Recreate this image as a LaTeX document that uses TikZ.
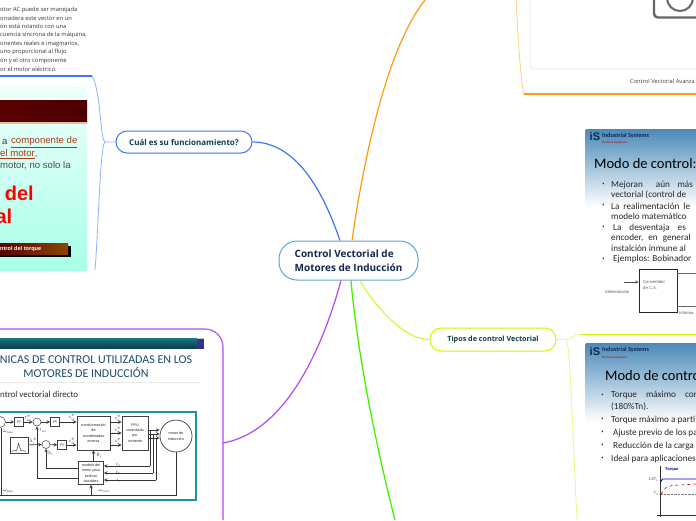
\documentclass[tikz,border=0pt]{standalone}
\usepackage{fontspec}
\setmainfont{Open Sans}
\newfontfamily\slidefont{Carlito}
\newfontfamily\webfont{Liberation Sans}
\usetikzlibrary{calc}
\definecolor{navy}{HTML}{12264F}
\definecolor{pine}{HTML}{0F3F3F}
\definecolor{skyline}{HTML}{5AA5DC}
\definecolor{blueline}{HTML}{3F74F5}
\definecolor{paleblue}{HTML}{8FB0FF}
\definecolor{orangeline}{HTML}{FF9A10}
\definecolor{paleorange}{HTML}{FFD080}
\definecolor{limeline}{HTML}{D2F500}
\definecolor{palelime}{HTML}{EFF58A}
\definecolor{greenline}{HTML}{44F000}
\definecolor{purpleline}{HTML}{B048F5}
\definecolor{frameteal}{HTML}{1F8FA8}
\definecolor{slideblue}{HTML}{4A8AB8}
\definecolor{titleblue}{HTML}{1A4A6A}
\definecolor{mintlight}{HTML}{F0FFFB}
\definecolor{mintdark}{HTML}{A8FFE8}
\definecolor{rustred}{HTML}{A83A18}
\tikzset{
    topic/.style={draw, fill=white, rounded corners=11pt, line width=1pt, inner sep=0pt, text=pine,
        font=\fontsize{7.2}{9}\selectfont\bfseries},
    note/.style={anchor=west, inner sep=0pt, text=black!80, font=\fontsize{5.8}{6}\selectfont},
    slidetext/.style={anchor=west, inner sep=0pt, text=black!85, font=\slidefont\fontsize{9.2}{10}\selectfont},
    slidehead/.style={anchor=west, inner sep=0pt, text=black, font=\slidefont\fontsize{14.5}{16}\selectfont},
    bulletdot/.style={anchor=center, inner sep=0pt, text=black!85, font=\fontsize{7}{7}\selectfont},
    logoname/.style={anchor=west, inner sep=0pt, text=navy, font=\slidefont\fontsize{6.2}{6}\selectfont\bfseries},
    logosub/.style={anchor=west, inner sep=0pt, text=red!70!black, font=\slidefont\fontsize{3}{3}\selectfont},
    logomark/.style={anchor=west, inner sep=0pt, text=navy, font=\webfont\fontsize{11}{11}\selectfont\bfseries},
    webtext/.style={inner sep=0pt, font=\webfont\fontsize{9.6}{11}\selectfont},
    bigred/.style={anchor=east, inner sep=0pt, text=red, font=\webfont\fontsize{20}{22}\selectfont\bfseries},
    tiny/.style={inner sep=0pt, text=black!80, font=\webfont\fontsize{3.8}{4.6}\selectfont},
    block/.style={draw=black!75, fill=white, line width=0.7pt, inner sep=0pt, align=center,
        text=black!85, font=\webfont\fontsize{3.7}{5.4}\selectfont},
    sumnode/.style={draw=black!75, fill=white, circle, line width=0.5pt, inner sep=0pt, minimum size=8pt},
    wire/.style={draw=black!80, line width=0.6pt, ->, >=stealth},
    title/.style={inner sep=0pt, text=titleblue, font=\slidefont\fontsize{12}{13}\selectfont},
}
\begin{document}
\begin{tikzpicture}[x=1pt,y=-1pt]
    \useasboundingbox (0,0) rectangle (696,520);

    % main topics
    \node[topic, draw=skyline, minimum width=139pt, minimum height=39pt, rounded corners=18pt, align=left, text=navy,
        font=\fontsize{10}{14}\selectfont\bfseries] (central) at (348.5,260.5) {Control Vectorial de\\Motores de Inducción};
    \node[topic, draw=blueline, minimum width=136pt, minimum height=22pt, font=\fontsize{8}{9}\selectfont\bfseries] (cual) at (184,142) {Cuál es su funcionamiento?};
    \node[topic, draw=limeline, minimum width=126pt, minimum height=23pt] (tipos) at (493,339.5) {Tipos de control Vectorial};

    % free ends
    \coordinate (blueknee) at (105,142);
    \coordinate (bluetop) at (92,76);
    \coordinate (blueedge) at (0,76);
    \coordinate (bluelow) at (95,270);
    \coordinate (orangetop) at (425,0);
    \coordinate (orangeleft) at (516,0);
    \coordinate (orangecorner) at (524,94);
    \coordinate (orangeedge) at (696,94);
    \coordinate (greenlow) at (395,520);
    \coordinate (purplejoin) at (223,443);
    \coordinate (limeknee) at (566,339.5);
    \coordinate (limetop) at (581,334);
    \coordinate (limeedge) at (696,334);
    \coordinate (limelow) at (577,520);

    % connectors
    \draw[blueline, line width=1.2pt] (central.north) ++(-8.5,0) coordinate (cn1) (cn1) .. controls (326,200) and (300,142) .. (cual.east);
    \draw[orangeline, line width=1.2pt] (central.north) ++(3.5,0) coordinate (cn2) (cn2) .. controls (362,170) and (385,50) .. (orangetop);
    \draw[greenline, line width=1.3pt] (central.south) ++(2.5,0) coordinate (cs1) (cs1) .. controls (356,340) and (372,430) .. (greenlow);
    \draw[purpleline, line width=1.2pt] (central.south) ++(-7.5,0) coordinate (cs2) (cs2) .. controls (322,350) and (285,432) .. (purplejoin);
    \draw[limeline, line width=0.9pt] (central.south) ++(11,0) coordinate (cs3) (cs3) .. controls (378,310) and (405,339.5) .. (tipos.west);

    % frame of the web slide
    \draw[paleblue, line width=0.8pt] (cual.west) -- (blueknee) .. controls (100,140) and (101,90) .. (bluetop);
    \draw[blueline, line width=1.1pt] (bluetop) -- (blueedge);
    \draw[paleblue, line width=0.8pt] (blueknee) .. controls (100,146) and (99,220) .. (bluelow);

    % frame of the upper right picture
    \draw[paleorange, line width=0.8pt] (orangeleft) .. controls (518,30) and (520,80) .. (orangecorner);
    \draw[orangeline, line width=1.1pt] (orangecorner) -- (orangeedge);

    % frame of the lower right slide
    \draw[palelime, line width=0.8pt] (tipos.east) -- (limeknee) .. controls (572,339.5) and (574,334) .. (limetop);
    \draw[limeline, line width=1pt] (limetop) -- (limeedge);
    \draw[palelime, line width=0.8pt] (limeknee) .. controls (570,340) and (572,420) .. (limelow);

    % text top left
    \foreach \n/\y/\txt in {1/9.5/{otor AC puede ser manejada}, 2/18/{onsidera este vector en un},
        3/26.5/{ón está rotando con una}, 4/35/{cuencia síncrona de la máquina,},
        5/43.5/{onentes reales e imaginarios,}, 6/52/{uno proporcional al flujo},
        7/61/{ón y el otro componente}, 8/69/{or el motor eléctrico.}}
        \node[note] (note\n) at (0,\y) {\txt};

    % web slide
    \shade[top color=mintlight, bottom color=mintdark] (0,85) rectangle (87,270);
    \fill[brown!50] (0,103) rectangle (87,124);
    \shade[left color=red!35!black, right color=red!30!black] (0,100) rectangle (87,121.5);
    \node[webtext, anchor=west, text=black!75] (webA) at (2,142) {a};
    \node[webtext, anchor=west, text=rustred] (webB) at (11,142) {\underline{componente de}};
    \node[webtext, anchor=west, text=rustred] (webC) at (0,154) {\underline{el motor},};
    \node[webtext, anchor=west, text=black!70] (webD) at (0,166) {motor, no solo la};
    \node[bigred] (bigA) at (34,193) {e del};
    \node[bigred] (bigB) at (12.5,216) {al};
    \fill[black] (0,246) rectangle (70.5,256.5);
    \shade[left color=red!35!black, right color=orange!55!black] (0,243) rectangle (68,254);
    \node[inner sep=0pt, anchor=west, text=white, font=\webfont\fontsize{5.6}{6}\selectfont\bfseries] (webE) at (0,249) {ntrol del torque};

    % upper right picture
    \draw[black!10, line width=0.6pt, rounded corners=4pt] (530,-8) -- (530,69) -- (704,69);
    \draw[black!60, line width=2.4pt, rounded corners=4pt] (654,-8) -- (654,17.5) -- (704,17.5);
    \draw[black!60, line width=2pt] (680,-2) circle[radius=13];
    \node[anchor=west, inner sep=0pt, text=black!75, font=\fontsize{5.7}{6}\selectfont] (avanza) at (630,81.5) {Control Vectorial Avanza};

    % first slide
    \shade[top color=slideblue, bottom color=white, rounded corners=2pt] (585,129) rectangle (704,207);
    \node[logomark] (markA) at (589.5,137) {iS};
    \node[logoname] (logoA) at (602,135.5) {Industrial Systems};
    \node[logosub] (subA) at (602,143) {Electrical Equipment};
    \node[slidehead] (headA) at (594,163.5) {Modo de control:};
    \foreach \n/\y in {1/185, 2/206, 3/228, 4/259.5}
        \node[bulletdot] (dotA\n) at (603.5,\y) {•};
    \foreach \n/\y/\txt in {1/185/{Mejoran\hspace{13pt}aún\hspace{7.5pt}más}, 2/195/{vectorial (control de}, 3/206/{La\hspace{4pt}realimentación\hspace{4pt}le},
        4/216/{modelo matemático}, 5/228/{\hspace{2pt}La\hspace{8pt}desventaja\hspace{8pt}es}, 6/238/{encoder,\hspace{5pt}en\hspace{5pt}general},
        7/248/{instalción inmune al}, 8/259/{\hspace{2pt}Ejemplos: Bobinador}}
        \node[slidetext] (lineA\n) at (611,\y) {\txt};

    % drive sketch on the first slide
    \node[draw=black!85, fill=white, line width=0.6pt, minimum width=38pt, minimum height=43pt, inner sep=0pt] (conv) at (658,290.5) {};
    \node[tiny, anchor=north west, align=left, text=black!65, font=\webfont\fontsize{4.2}{6}\selectfont] (convtxt) at (643,280.5) {Convertidor\\de C.A.};
    \node[tiny, anchor=west, text=black!65, font=\webfont\fontsize{4.2}{6}\selectfont] (alim) at (605,292) {Alimentación};
    \node[tiny, anchor=west, text=black!65, font=\webfont\fontsize{4.2}{6}\selectfont] (informa) at (679,313) {Informa};
    \coordinate (alimin) at (624,282);
    \coordinate (convout) at (696,273);
    \coordinate (convback) at (696,306);
    \draw[black!70, line width=0.5pt, ->, >=stealth] (alimin) -- (alimin -| conv.west);
    \draw[black!60, line width=0.5pt] (conv.east |- convout) -- (convout);
    \draw[black!60, line width=0.5pt] (conv.east |- convback) -- (convback);

    % second slide
    \shade[top color=slideblue, bottom color=white, rounded corners=2pt] (585,343) rectangle (704,422);
    \node[logomark] (markB) at (589.5,352) {iS};
    \node[logoname] (logoB) at (602,350) {Industrial Systems};
    \node[logosub] (subB) at (602,357.5) {Electrical Equipment};
    \node[slidehead] (headB) at (605,375.5) {Modo de contro};
    \foreach \n/\y in {1/395.5, 2/420, 3/433, 4/446, 5/459}
        \node[bulletdot] (dotB\n) at (602.5,\y) {•};
    \foreach \n/\y/\txt in {1/395.5/{Torque\hspace{9pt}máximo\hspace{9pt}con}, 2/406.5/{(180\%Tn).}, 3/420/{Torque máximo a parti},
        4/433/{\hspace{2pt}Ajuste previo de los pa}, 5/446/{\hspace{2pt}Reducción de la carga}, 6/459.5/{Ideal para aplicaciones}}
        \node[slidetext] (lineB\n) at (611,\y) {\txt};

    % torque chart
    \coordinate (axistop) at (660,466);
    \coordinate (axisfoot) at (660,517);
    \coordinate (axisleft) at (657,515.5);
    \coordinate (axisright) at (696,515.5);
    \draw[black!80, line width=0.6pt] (axistop) -- (axisfoot);
    \draw[black!80, line width=0.6pt] (axisleft) -- (axisright);
    \draw[blue!80!black, line width=0.9pt] (660.5,482) -- (662.5,479) -- (696,479);
    \draw[red!80!black, line width=0.6pt, dashed] (661,494) -- (666,487.5) -- (672,485.5) -- (696,484);
    \draw[black!55, line width=0.4pt, densely dotted] (661,494) -- (696,494);
    \node[inner sep=0pt, anchor=west, text=blue!60!black, font=\webfont\fontsize{4}{5}\selectfont\bfseries] (torque) at (665,470) {Torque};
    \node[tiny, anchor=east] (tmax) at (658.5,480) {1.8T$_{\mathrm n}$};
    \node[tiny, anchor=east] (tnom) at (658.5,494) {T$_{\mathrm n}$};

    % purple frame
    \coordinate (purpletop) at (0,329);
    \coordinate (purplelow) at (223,520);
    \draw[purpleline, line width=1.1pt, rounded corners=18pt] (purpletop) -- (223,329) -- (purplelow);

    % technique slide
    \fill[black!20] (0,337.5) rectangle (204,339);
    \shade[top color=frameteal!80!black, bottom color=frameteal!40!black] (0,338.5) rectangle (197,348.5);
    \fill[blue!45!black!80] (197,338.5) rectangle (204,348.5);
    \node[title] (techA) at (96,359.5) {NICAS DE CONTROL UTILIZADAS EN LOS};
    \node[title] (techB) at (86,372.5) {MOTORES DE INDUCCIÓN};
    \draw[black!8, line width=0.6pt] (0,382) -- (200,382);
    \node[slidetext, text=black!85, font=\slidefont\fontsize{8.9}{10}\selectfont] (techC) at (0,394) {ntrol vectorial directo};

    % block diagram
    \node[draw=frameteal, fill=white, line width=2pt, minimum width=203pt, minimum height=88pt, inner sep=0pt] (panel) at (94,455.5) {};
    \node[sumnode, minimum size=11pt] (sumL) at (0,422) {};
    \node[block, minimum width=9pt, minimum height=9pt] (piA) at (19,422) {PI};
    \node[sumnode] (sumT) at (37,422) {};
    \node[block, minimum width=9pt, minimum height=9pt] (piB) at (55,422) {PI};
    \node[block, minimum width=33pt, minimum height=34pt] (transf) at (93.5,433) {transformación\\de\\coordenadas\\inversa};
    \node[block, minimum width=26pt, minimum height=34pt] (ppu) at (135,433) {PPU\\controlada\\por\\corriente};
    \node[block, circle, minimum size=32pt] (motor) at (176,436) {motor de\\inducción};
    \node[block, minimum width=18pt, minimum height=16pt] (ramp) at (19,445) {};
    \node[sumnode] (sumF) at (46,444.5) {};
    \node[block, minimum width=9pt, minimum height=9pt] (piC) at (62,445) {PI};
    \node[block, minimum width=25pt, minimum height=23pt] (model) at (91,473) {modelo del\\motor para\\estimar\\variables};
    \draw[black!80, line width=0.5pt] (ramp.south west) ++(2,-2) coordinate (rampA) (rampA) -- ++(5,-1) -- ++(2,-7) -- ++(2,7) -- ++(5,1);

    \draw[wire] (sumL) -- (piA);
    \draw[wire] (piA) -- (sumT);
    \draw[wire] (sumT) -- (piB);
    \draw[wire] (piB) -- (piB -| transf.west);
    \draw[wire] (ramp) -- (sumF);
    \draw[wire] (sumF) -- (piC);
    \draw[wire] (piC) -- (piC -| transf.west);
    \draw[wire] (transf.east |- piB) -- (ppu.west |- piB);
    \draw[wire] (transf.east) -- (ppu.west);
    \draw[wire] (transf.east |- piC) -- (ppu.west |- piC);
    \draw[wire, <-] (transf.south) ++(0,0) coordinate (trS) (trS) -- (trS |- model.north);
    \coordinate (wireF) at (46,468);
    \coordinate (wireT) at (37,478);
    \draw[wire] (model.west |- wireF) -- (wireF) -- (sumF);
    \draw[wire] (model.west |- wireT) -- (wireT) -- (sumT);
    \foreach \n/\x/\y/\ym in {1/150/430/466, 2/153/434/473, 3/156/438/480}{
        \coordinate (tapA\n) at (\x,\y);
        \coordinate (tapB\n) at (\x,\ym);
        \draw[black!80, line width=0.6pt] (ppu.east |- tapA\n) -- (tapA\n) -- (tapB\n);
        \draw[wire] (tapA\n) -- (motor.west |- tapA\n);
        \draw[wire] (tapB\n) -- (model.east |- tapB\n);
    }
    \coordinate (mechR) at (motor.south |- 0,495);
    \coordinate (mechL) at (-4,495);
    \draw[black!80, line width=0.6pt] (motor.south) -- (mechR) -- (mechL);
    \draw[wire] (model.south |- mechR) -- (model.south);
    \coordinate (baseU) at (1,428);
    \draw[black!80, line width=0.6pt] (1,495) -- (baseU);

    \foreach \n/\x/\y/\txt in {1/28/418/{T$^*_{\mathrm{em}}$}, 2/72/418/{$i^*_{\mathrm{qs}}$}, 3/118/418/{$i^*_{\mathrm a}$},
        4/118/430/{$i^*_{\mathrm b}$}, 5/118/441/{$i^*_{\mathrm c}$}, 6/33/441/{$\lambda^*_{\mathrm r}$}, 7/72/441/{$i^*_{\mathrm{ds}}$},
        8/8/432/{$\omega_{\mathrm{base}}$}, 9/43/431/{T$_{\mathrm{em}}$}, 10/50/453/{$\lambda_{\mathrm r}$}, 11/99/455/{$\theta_{\mathrm s}$},
        12/118/464/{$i_{\mathrm a}$}, 13/118/472/{$i_{\mathrm b}$}, 14/118/480/{$i_{\mathrm c}$}, 15/8/491/{$\omega_{\mathrm{base}}$},
        16/104/491/{$\omega_{\mathrm{mech}}$}}
        \node[tiny] (sig\n) at (\x,\y) {\txt};
\end{tikzpicture}
\end{document}
